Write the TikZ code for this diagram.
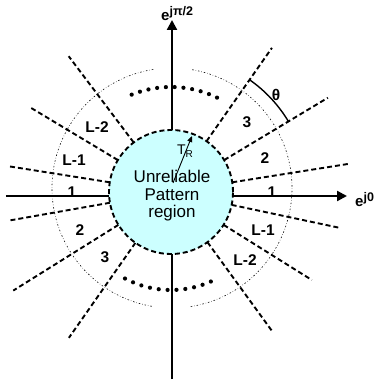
\documentclass[tikz,border=0pt]{standalone}
\usepackage{fontspec}
\setmainfont{Liberation Sans}
\usetikzlibrary{calc, arrows.meta}

\definecolor{unrelfill}{RGB}{204,255,255}

\begin{document}
\begin{tikzpicture}[x=1pt, y=1pt,
    sector/.style={line width=1.9pt, dash pattern=on 5pt off 3pt},
    axis/.style={line width=2.2pt, -{Triangle[length=10pt,width=10pt]}},
    seclabel/.style={font=\fontsize{15.5}{15.5}\selectfont\bfseries, inner sep=0pt}]
  \useasboundingbox (-172,-189) rectangle (202,196);
  % Centre of the pattern circle
  \coordinate (O) at (-1,4);

  % Outer dotted circle
  \draw[line width=0.6pt, dash pattern=on 1.5pt off 2pt on 0.4pt off 2pt] (0,8) ++(99:120) arc (99:261:120);
  \draw[line width=0.6pt, dash pattern=on 1.5pt off 2pt on 0.4pt off 2pt] (0,8) ++(279:120) arc (279:441:120);

  % Sector boundaries
  \foreach \ang/\len in {9/179, 31/183, 55/176, 127/170, 149/165, 171/165,
                         190/165, 212/186, 235/178, 306/172, 328/166, 348/173}
    \draw[sector] ($(O)+(\ang:62)$) -- ($(O)+(\ang:\len)$);

  % Axes
  \coordinate (west) at (-166,0);
  \coordinate (east) at (175,0);
  \coordinate (south) at (0,-183);
  \coordinate (north) at (0,176);
  \draw[axis] (west) -- (east);
  \draw[axis] (south) -- (north);
  \node[anchor=west, inner sep=0pt] (ejzero) at (183,-4)
    {\fontsize{15}{15}\selectfont\bfseries e\raisebox{5pt}{\fontsize{12.5}{12.5}\selectfont j0}};
  \node[anchor=west, inner sep=0pt] (ejhalfpi) at (-11,182)
    {\fontsize{15}{15}\selectfont\bfseries e\raisebox{5pt}{\fontsize{12.5}{12.5}\selectfont jπ/2}};

  % Angle theta
  \draw[line width=1.4pt] ($(O)+(31:137)$) arc (31:55:137);
  \node[seclabel] (theta) at (104,101) {θ};

  % Dots
  \foreach \i in {0,...,10}
    \fill ($(O)+({64+4.8*\i}:105)$) circle (2.1);
  \foreach \i in {0,...,10}
    \fill ($(O)+({242+5.2*\i}:98)$) circle (2.1);

  % Unreliable region
  \draw[sector, fill=unrelfill] (O) circle (62);
  \node[align=center, font=\fontsize{17}{17.5}\selectfont] (unrel) at (0,0)
    {Unreliable\\Pattern\\region};

  % Threshold T_R
  \coordinate (trfoot) at (1,13);
  \coordinate (trtip) at (20,60);
  \draw[line width=0.9pt, -{Triangle[length=6pt,width=5pt]}] (trfoot) -- (trtip);
  \node[inner sep=0pt] (tr) at (13,45)
    {\fontsize{14}{14}\selectfont T\raisebox{-3pt}{\fontsize{10}{10}\selectfont R}};

  % Sector labels
  \node[seclabel] (rone) at (100,4) {1};
  \node[seclabel] (rtwo) at (93,38) {2};
  \node[seclabel] (rthree) at (75,74) {3};
  \node[seclabel] (rlone) at (91,-34) {L-1};
  \node[seclabel] (rltwo) at (73,-64) {L-2};
  \node[seclabel] (lone) at (-100,4) {1};
  \node[seclabel] (llone) at (-98,36) {L-1};
  \node[seclabel] (lltwo) at (-75,69) {L-2};
  \node[seclabel] (ltwo) at (-92,-34) {2};
  \node[seclabel] (lthree) at (-67,-61) {3};
\end{tikzpicture}
\end{document}
